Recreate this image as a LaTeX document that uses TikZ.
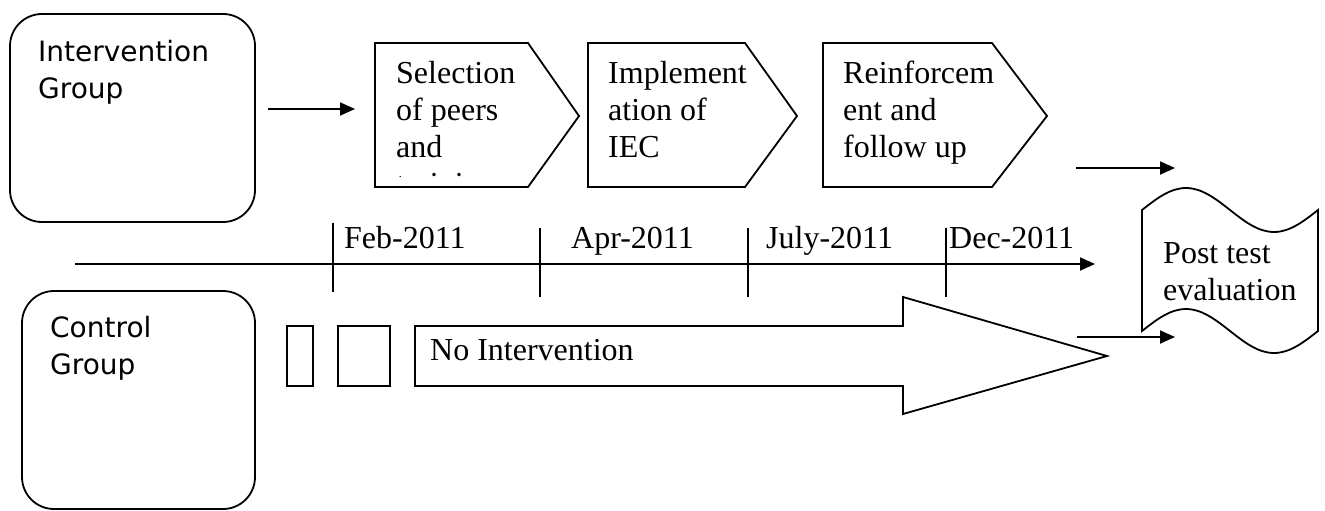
\documentclass[tikz,border=0pt]{standalone}
\usepackage{fontspec}
\setmainfont{Liberation Serif}
\newfontfamily\grpfont{DejaVu Sans}
\usetikzlibrary{arrows.meta}
\begin{document}
\begin{tikzpicture}[x=1pt,y=-1pt,
  shp/.style={draw=black, line width=1.8pt, line join=miter},
  grpbox/.style={draw=black, line width=1.8pt, rounded corners=32pt},
  arr/.style={draw=black, line width=1.8pt, -{Triangle[length=15pt,width=13pt]}},
  tickln/.style={draw=black, line width=1.8pt},
  serif/.style={font=\fontsize{32}{37}\selectfont, inner sep=0pt, anchor=base west, align=left},
  sanst/.style={font=\grpfont\fontsize{28}{37}\selectfont, inner sep=0pt, anchor=base west, align=left}
]
\useasboundingbox[fill=white] (0,0) rectangle (1325,511);

% group boxes (multi-line nodes are placed by the baseline of their last line)
\draw[grpbox] (10,14) rectangle (255,222);
\node[sanst] (ig) at (38,99) {Intervention\\Group};
\draw[grpbox] (22,291) rectangle (255,509);
\node[sanst] (cg) at (50,374) {Control\\Group};

% arrow from intervention group
\coordinate (a1s) at (268,109);
\coordinate (a1e) at (355,109);
\draw[arr] (a1s) -- (a1e);

% pentagons
\draw[shp] (375,43) -- (528,43) -- (579,116) -- (528,187) -- (375,187) -- cycle;
\begin{scope}
  \clip (377,45) rectangle (560,176);
  \node[serif] (sel) at (396,194) {Selection\\of peers\\and\\training};
\end{scope}
\draw[shp] (588,43) -- (745,43) -- (797,116) -- (745,187) -- (588,187) -- cycle;
\node[serif] (imp) at (608,157) {Implement\\ation of\\IEC};
\draw[shp] (823,43) -- (992,43) -- (1047,116) -- (992,187) -- (823,187) -- cycle;
\node[serif] (rein) at (843,157) {Reinforcem\\ent and\\follow up};

% timeline
\coordinate (ts) at (75,264);
\coordinate (te) at (1095,264);
\draw[arr] (ts) -- (te);
\coordinate (f1) at (333,223); \coordinate (f2) at (333,292);
\coordinate (p1) at (540,228); \coordinate (p2) at (540,297);
\coordinate (j1) at (748,228); \coordinate (j2) at (748,297);
\coordinate (d1) at (946,228); \coordinate (d2) at (946,297);
\draw[tickln] (f1) -- (f2);
\draw[tickln] (p1) -- (p2);
\draw[tickln] (j1) -- (j2);
\draw[tickln] (d1) -- (d2);
\node[serif] (feb) at (344,248) {Feb-2011};
\node[serif] (apr) at (571,248) {Apr-2011};
\node[serif] (jul) at (766,248) {July-2011};
\node[serif] (dec) at (949,248) {Dec-2011};

% control group row
\draw[shp] (287,326) rectangle (313,386);
\draw[shp] (338,326) rectangle (390,386);
\draw[shp] (415,326) -- (903,326) -- (903,297) -- (1107,356) -- (903,414) -- (903,386) -- (415,386) -- cycle;
\node[serif] (noint) at (430,360) {No Intervention};

% arrows to post test
\coordinate (b1s) at (1076,168);
\coordinate (b1e) at (1175,168);
\draw[arr] (b1s) -- (b1e);
\coordinate (b2s) at (1077,337);
\coordinate (b2e) at (1175,337);
\draw[arr] (b2s) -- (b2e);

% post test evaluation wave shape
\draw[shp] (1142,210) sin (1186,188) cos (1230,210) sin (1274,232) cos (1318,210)
  -- (1318,331) sin (1274,353) cos (1230,331) sin (1186,309) cos (1142,331) -- cycle;
\node[serif] (post) at (1163,300) {Post test\\evaluation};
\end{tikzpicture}
\end{document}
